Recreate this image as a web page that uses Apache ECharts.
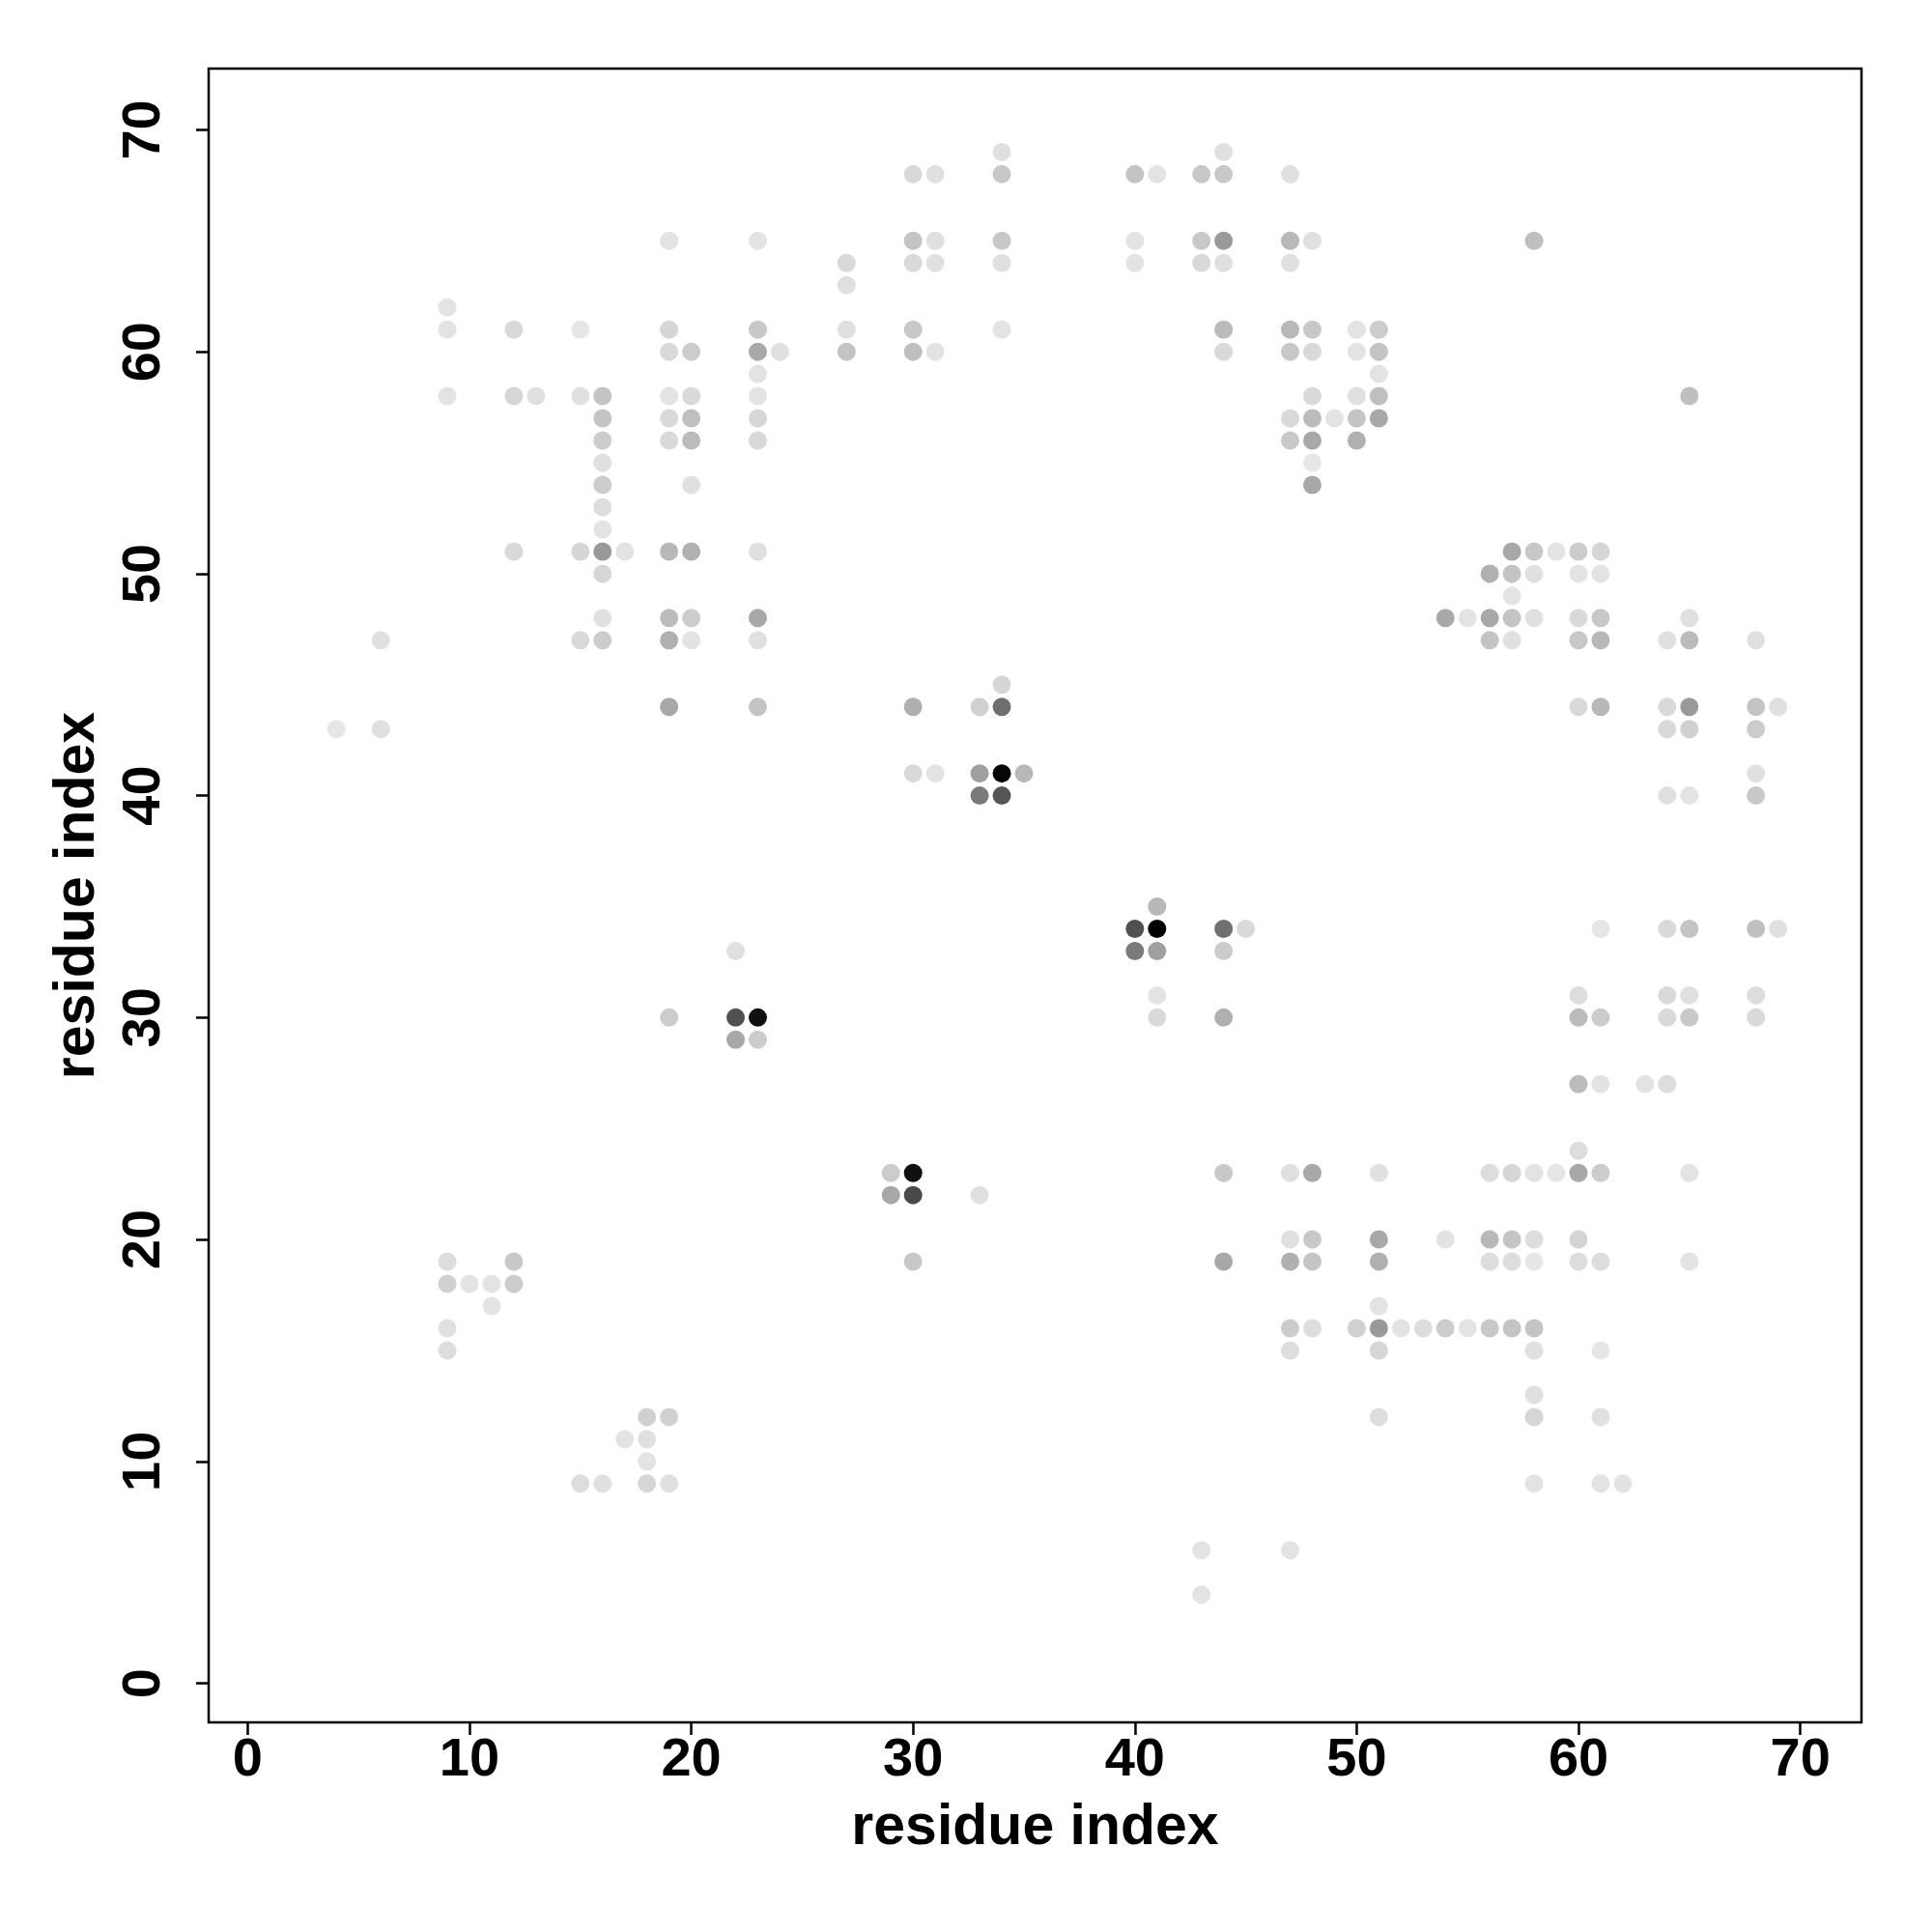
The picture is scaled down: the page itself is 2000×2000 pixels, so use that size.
<!DOCTYPE html>
<html>
<head>
<meta charset="utf-8">
<script src="https://cdn.jsdelivr.net/npm/echarts@6/dist/echarts.min.js"></script>
<style>html,body{margin:0;padding:0;background:#fff}#c{width:2000px;height:2000px}</style>
</head>
<body>
<div id="c"></div>
<script>
// residue i (x), residue j (y), grey level of the dot (0 = black, 255 = white)
const resI = [
 34,44,
 30,31,34,40,41,43,44,47,
 19,23,30,31,34,40,43,44,47,48,58,
 27,30,31,34,40,43,44,47,
 27,
 9,
 9,12,15,19,23,27,30,34,44,47,48,50,51,
 19,20,23,24,27,30,31,44,47,48,50,51,
 23,51,
 9,12,13,15,16,19,20,23,48,50,51,65,
 16,19,20,23,47,48,49,50,51,
 16,19,20,23,47,48,50,
 16,48,
 16,20,48,
 16,
 16,
 12,15,16,17,19,20,23,57,58,59,60,61,
 16,56,57,58,60,61,
 57,
 16,19,20,23,54,55,56,57,58,60,61,65,
 6,15,16,19,20,23,56,57,60,61,64,65,68,
 34,
 19,23,30,33,34,60,61,64,65,68,69,
 4,6,64,65,68,
 30,31,33,34,35,68,
 33,34,64,65,68,
 41,
 40,41,44,45,61,64,65,68,69,
 22,40,41,44,
 41,60,64,65,68,
 19,22,23,41,44,60,61,64,65,68,
 22,23,
 60,61,63,64,
 60,
 29,30,44,47,48,51,56,57,58,59,60,61,65,
 29,30,33,
 47,48,51,54,56,57,58,60,
 9,12,30,44,47,48,51,56,57,58,60,61,65,
 9,10,11,12,
 11,51,
 9,47,48,50,51,52,53,54,55,56,57,58,
 9,47,51,58,61,
 58,
 18,19,51,58,61,
 17,18,
 18,
 15,16,18,19,58,61,62,
 43,47,
 43
];
const resJ = [
 69,69,
 68,68,68,68,68,68,68,68,
 65,65,65,65,65,65,65,65,65,65,65,
 64,64,64,64,64,64,64,64,
 63,
 62,
 61,61,61,61,61,61,61,61,61,61,61,61,61,
 60,60,60,60,60,60,60,60,60,60,60,60,
 59,59,
 58,58,58,58,58,58,58,58,58,58,58,58,
 57,57,57,57,57,57,57,57,57,
 56,56,56,56,56,56,56,
 55,55,
 54,54,54,
 53,
 52,
 51,51,51,51,51,51,51,51,51,51,51,51,
 50,50,50,50,50,50,
 49,
 48,48,48,48,48,48,48,48,48,48,48,48,
 47,47,47,47,47,47,47,47,47,47,47,47,47,
 45,
 44,44,44,44,44,44,44,44,44,44,44,
 43,43,43,43,43,
 41,41,41,41,41,41,
 40,40,40,40,40,
 35,
 34,34,34,34,34,34,34,34,34,
 33,33,33,33,
 31,31,31,31,31,
 30,30,30,30,30,30,30,30,30,30,
 29,29,
 27,27,27,27,
 24,
 23,23,23,23,23,23,23,23,23,23,23,23,23,
 22,22,22,
 20,20,20,20,20,20,20,20,
 19,19,19,19,19,19,19,19,19,19,19,19,19,
 18,18,18,18,
 17,17,
 16,16,16,16,16,16,16,16,16,16,16,16,
 15,15,15,15,15,
 13,
 12,12,12,12,12,
 11,11,
 10,
 9,9,9,9,9,9,9,
 6,6,
 4
];
const greyLevel = [
 224,224,
 217,224,200,196,227,200,200,224,
 227,227,196,224,200,227,200,154,184,224,191,
 217,217,224,224,227,217,224,224,
 224,
 227,
 227,217,230,214,200,224,200,227,187,184,200,227,204,
 217,204,168,224,196,191,227,217,200,217,227,196,
 227,227,
 227,214,224,224,196,227,217,227,217,224,191,191,
 196,217,191,214,217,187,227,196,168,
 204,217,187,217,200,168,176,
 224,230,
 204,224,168,
 221,
 227,
 217,214,153,227,184,176,224,168,200,227,204,214,
 214,176,196,224,227,227,
 227,
 224,187,204,168,168,227,168,196,224,217,200,224,
 224,217,204,176,227,224,196,224,200,184,224,187,224,
 214,
 168,196,176,208,110,217,184,217,154,196,224,
 230,224,217,208,204,
 217,227,160,5,184,224,
 122,85,224,227,200,
 184,
 80,0,112,217,230,217,196,191,224,
 224,122,160,204,
 227,221,217,224,221,
 204,80,16,217,176,187,204,217,200,217,
 168,204,
 187,227,227,221,
 221,
 204,16,200,224,168,224,221,214,227,230,168,204,227,
 168,74,224,
 224,200,168,227,184,196,221,212,
 221,200,200,168,176,196,176,221,221,230,221,221,227,
 208,227,227,204,
 227,227,
 224,204,221,208,153,227,221,204,227,200,196,196,
 221,221,214,224,230,
 224,
 208,208,221,214,224,
 227,224,
 227,
 221,224,214,224,227,227,227,
 227,227,
 227
];
const tickValues = [0, 10, 20, 30, 40, 50, 60, 70];
const axisTitle = 'residue index';

const points = resI.map((x, k) => [x, resJ[k], greyLevel[k]]);
const FONT = '"Liberation Sans", Arial, Helvetica, sans-serif';

const chart = echarts.init(document.getElementById('c'), null, {renderer: 'canvas'});
chart.setOption({
  backgroundColor: '#ffffff',
  animation: false,
  grid: {left: 216, right: 73, top: 71, bottom: 217, show: true, borderColor: '#000', borderWidth: 2.5, backgroundColor: 'transparent'},
  xAxis: {
    type: 'value', min: -1.76, max: 72.76,
    name: axisTitle, nameLocation: 'middle', nameGap: 80,
    nameTextStyle: {fontFamily: FONT, fontWeight: 'bold', fontSize: 59, color: '#000'},
    axisLine: {show: false, onZero: false},
    splitLine: {show: false},
    axisTick: {show: true, customValues: tickValues, length: 13, lineStyle: {color: '#000', width: 2.5}},
    axisLabel: {show: true, customValues: tickValues, margin: 12, fontFamily: FONT, fontWeight: 'bold', fontSize: 56, color: '#000'}
  },
  yAxis: {
    type: 'value', min: -1.76, max: 72.76,
    name: axisTitle, nameLocation: 'middle', nameGap: 106, nameRotate: 90,
    nameTextStyle: {fontFamily: FONT, fontWeight: 'bold', fontSize: 59, color: '#000'},
    axisLine: {show: false, onZero: false},
    splitLine: {show: false},
    axisTick: {show: true, customValues: tickValues, length: 13, lineStyle: {color: '#000', width: 2.5}},
    axisLabel: {show: true, customValues: tickValues, rotate: 90, margin: 38, fontFamily: FONT, fontWeight: 'bold', fontSize: 56, color: '#000'}
  },
  series: [{
    type: 'scatter',
    data: points,
    symbol: 'circle',
    symbolSize: 19,
    itemStyle: {
      opacity: 1,
      color: p => { const g = p.data[2]; return 'rgb(' + g + ',' + g + ',' + g + ')'; }
    }
  }]
});
</script>
</body>
</html>
